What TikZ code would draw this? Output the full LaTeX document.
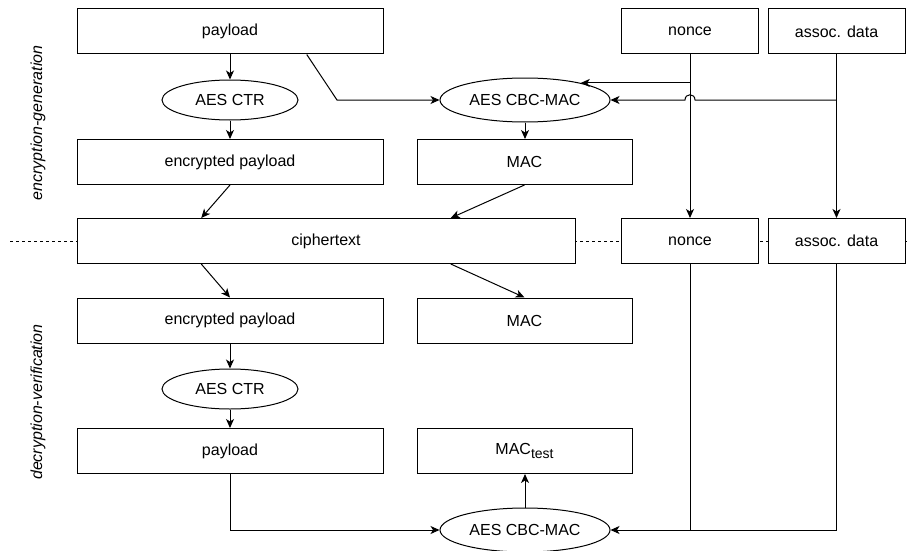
\documentclass[tikz,border=0pt]{standalone}
\usepackage{fontspec}
\setmainfont{Liberation Sans}
\usetikzlibrary{shapes.geometric,arrows.meta,calc}

\begin{document}
\begin{tikzpicture}[x=1pt,y=-1pt,line width=1pt,
  font=\fontsize{16}{19}\selectfont,
  box/.style={draw,fill=white,rectangle,inner sep=0pt,minimum height=45pt},
  wbox/.style={box,minimum width=306pt},
  mbox/.style={box,minimum width=215pt},
  sbox/.style={box,minimum width=137pt},
  oval/.style={draw,fill=white,ellipse,inner sep=0pt},
  ctr/.style={oval,minimum width=136pt,minimum height=40pt},
  cbc/.style={oval,minimum width=170pt,minimum height=44pt},
  flow/.style={-{Stealth[length=9pt,width=8pt,inset=2.5pt]}},
  phase/.style={rotate=90,font=\fontsize{16}{19}\selectfont\itshape},
  divider/.style={dash pattern=on 3pt off 3pt}
]
\useasboundingbox (0,0) rectangle (907,551);

% boundary between the two phases
\coordinate (divL) at (10,241);
\coordinate (divR) at (907,241);
\draw[divider] (divL) -- (divR);

% phase labels
\node[phase] (lblenc) at (38,123) {encryption-generation};
\node[phase] (lbldec) at (38,402) {decryption-verification};

% encryption side
\node[wbox] (pay1)   at (230,31.5)   {payload};
\node[sbox] (nonce1) at (690,31.5)   {nonce};
\node[sbox] (assoc1) at (836.5,31.5) {assoc. data};
\node[ctr]  (ctr1)   at (230,100)    {AES CTR};
\node[cbc]  (cbc1)   at (525,100)    {AES CBC-MAC};
\node[wbox] (enc1)   at (230,162)    {encrypted payload};
\node[mbox] (mac1)   at (524.5,162)  {MAC};

% transmitted data
\node[box,minimum width=498pt] (cipher) at (326,241) {ciphertext};
\node[sbox] (nonce2) at (690,241)   {nonce};
\node[sbox] (assoc2) at (836.5,241) {assoc. data};

% decryption side
\node[wbox] (enc2)    at (230,320.5)   {encrypted payload};
\node[mbox] (mac2)    at (524.5,320.5) {MAC};
\node[ctr]  (ctr2)    at (230,389)     {AES CTR};
\node[wbox] (pay2)    at (230,451)     {payload};
\node[mbox] (mactest) at (524.5,451)   {MAC\raisebox{-0.45ex}{\fontsize{14}{14}\selectfont test}};
\node[cbc]  (cbc2)    at (525,530)     {AES CBC-MAC};

% encryption flow
\draw[flow] (pay1.south) -- (ctr1.north);
\draw[flow] (ctr1.south) -- (enc1.north);
\coordinate (pout) at ($(pay1.south west)!0.75!(pay1.south east)$);
\coordinate (pbend) at (337,100);
\draw[flow] (pout) -- (pbend) -- (cbc1.west);
\draw[flow] (cbc1.south) -- (cbc1.south |- mac1.north);
\draw[flow] (nonce1.south) -- (nonce2.north);
\draw[flow] (assoc1.south) -- (assoc2.north);
\draw[flow] (nonce1.south |- cbc1.17) -- (cbc1.17);
\coordinate (cross) at (nonce1.south |- cbc1.east);
\draw[flow] (assoc1.south |- cbc1.east) -- ([xshift=5pt]cross)
  .. controls ([xshift=5pt,yshift=7pt]cross) and ([xshift=-5pt,yshift=7pt]cross)
  .. ([xshift=-5pt]cross) -- (cbc1.east);

% into and out of the ciphertext
\coordinate (cinL) at ($(cipher.north west)!0.25!(cipher.north east)$);
\coordinate (cinR) at ($(cipher.north west)!0.75!(cipher.north east)$);
\coordinate (coutL) at ($(cipher.south west)!0.25!(cipher.south east)$);
\coordinate (coutR) at ($(cipher.south west)!0.75!(cipher.south east)$);
\draw[flow] (enc1.south) -- (cinL);
\draw[flow] (mac1.south) -- (cinR);
\draw[flow] (coutL) -- (enc2.north);
\draw[flow] (coutR) -- (mac2.north);

% decryption flow
\draw[flow] (enc2.south) -- (ctr2.north);
\draw[flow] (ctr2.south) -- (pay2.north);
\draw[flow] (pay2.south) |- (cbc2.west);
\draw[flow] (cbc2.north) -- (cbc2.north |- mactest.south);
\draw[flow] (assoc2.south) |- (cbc2.east);
\draw (nonce2.south) -- (nonce2.south |- cbc2.east);
\end{tikzpicture}
\end{document}
